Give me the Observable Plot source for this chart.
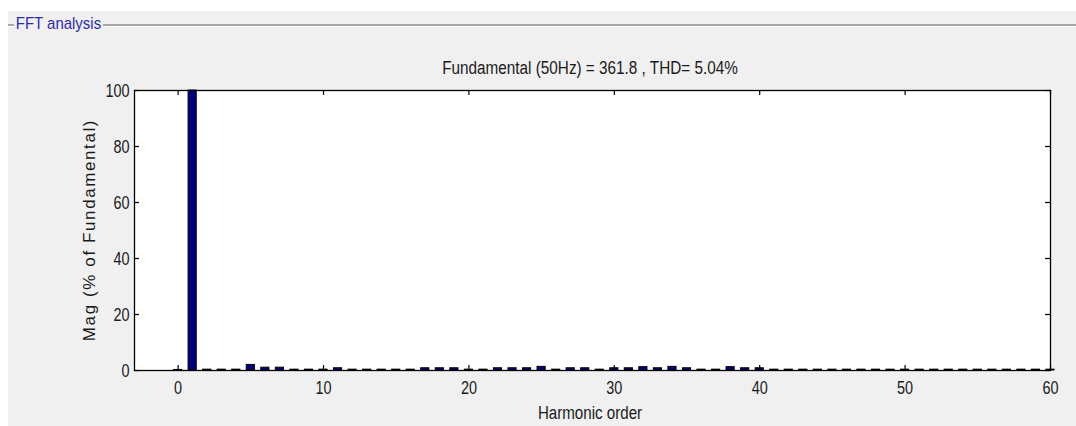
<!DOCTYPE html>
<html>
<head>
<meta charset="utf-8">
<script src="https://cdn.jsdelivr.net/npm/d3@7"></script>
<script src="https://cdn.jsdelivr.net/npm/@observablehq/plot@0.6"></script>
<style>
  html, body { margin: 0; padding: 0; background: #ffffff; }
  #wrap { position: relative; width: 1076px; height: 426px; overflow: hidden; }
  #panel { position: absolute; left: 8px; top: 11px; right: 0; bottom: 0; background: #f0f0f0; }
  #groupline { position: absolute; left: 8px; right: 0; top: 24px; height: 2px; background: #a8a8a8; border-bottom: 1px solid #ffffff; }
  #grouptitle { position: absolute; left: 14px; top: 14px; padding: 0 2px; background: #f0f0f0; color: #2a2ab4;
    font-family: "Liberation Sans", Arial, sans-serif; font-size: 17px; line-height: 20px;
    transform: scaleX(0.88); transform-origin: left center; }
  #chart { position: absolute; left: 0; top: 0; }
  .lbl { position: absolute; color: #1a1a1a; font-family: "Liberation Sans", Arial, sans-serif; white-space: nowrap; }
</style>
</head>
<body>
<div id="wrap">
  <div id="panel"></div>
  <div id="groupline"></div>
  <div id="grouptitle">FFT analysis</div>
  <div id="chart"></div>
</div>
<script>
const title = "Fundamental (50Hz) = 361.8 , THD= 5.04%";
const xLabel = "Harmonic order";
const yLabel = "Mag (% of Fundamental)";
const groupTitle = "FFT analysis";

const harmonics = d3.range(0, 61);
const magnitudes = [
  0.2, 100, 0.3, 0.3, 0.3, 2.0, 1.0, 1.0, 0.3, 0.3,
  0.3, 0.8, 0.3, 0.3, 0.3, 0.3, 0.3, 0.8, 0.8, 0.8,
  0.3, 0.3, 0.8, 0.8, 0.8, 1.3, 0.3, 0.8, 0.8, 0.3,
  0.8, 0.8, 1.2, 0.8, 1.3, 0.8, 0.3, 0.3, 1.2, 0.8,
  0.8, 0.3, 0.3, 0.3, 0.3, 0.3, 0.3, 0.3, 0.3, 0.3,
  0.3, 0.3, 0.3, 0.3, 0.3, 0.3, 0.3, 0.3, 0.3, 0.3,
  0.3
];
const xTicks = [0, 10, 20, 30, 40, 50, 60];
const yTicks = [0, 20, 40, 60, 80, 100];

const data = harmonics.map((h, i) => ({h, v: magnitudes[i]}));
const halfWidth = 0.28;

const W = 1076, H = 426;
const mL = 134, mR = 26, mT = 90, mB = 56;
const frameH = H - mT - mB, frameW = W - mL - mR;
const tickLen = 5;
const font = '"Liberation Sans", Arial, sans-serif';

const chart = Plot.plot({
  width: W,
  height: H,
  marginLeft: mL,
  marginRight: mR,
  marginTop: mT,
  marginBottom: mB,
  style: { background: "transparent", fontFamily: font, fontSize: "18px", color: "#1a1a1a" },
  x: { domain: [-3, 60], axis: null },
  y: { domain: [0, 100], axis: null },
  marks: [
    Plot.frame({ fill: "white", stroke: "none" }),
    Plot.rectY(data, { x1: d => d.h - halfWidth, x2: d => d.h + halfWidth, y1: 0, y2: "v", fill: "#000080", stroke: "black", strokeWidth: 1 }),
    // inward ticks
    Plot.tickX(xTicks, { x: d => d, insetTop: frameH - tickLen, stroke: "black", strokeWidth: 1.2 }),
    Plot.tickX(xTicks, { x: d => d, insetBottom: frameH - tickLen, stroke: "black", strokeWidth: 1.2 }),
    Plot.tickY(yTicks, { y: d => d, insetRight: frameW - tickLen, stroke: "black", strokeWidth: 1.2 }),
    Plot.tickY(yTicks, { y: d => d, insetLeft: frameW - tickLen, stroke: "black", strokeWidth: 1.2 }),
    Plot.axisX(xTicks, { tickSize: 0, tickPadding: 10, fontSize: 19, fill: "#1a1a1a", label: null }),
    Plot.axisY(yTicks, { tickSize: 0, tickPadding: 5, fontSize: 19, fill: "#1a1a1a", label: null }),
    Plot.frame({ stroke: "black", strokeWidth: 1.3 })
  ]
});
document.getElementById("chart").appendChild(chart);
// condense tick labels horizontally (narrow MATLAB-style font)
d3.select(chart).selectAll("g[aria-label$='tick label'] text").each(function() {
  const w = this.getComputedTextLength();
  if (w > 0) {
    this.setAttribute("textLength", (w * 0.76).toFixed(2));
    this.setAttribute("lengthAdjust", "spacingAndGlyphs");
  }
});
document.getElementById("grouptitle").textContent = groupTitle;

const wrap = document.getElementById("wrap");
function addLabel(text, css) {
  const el = document.createElement("div");
  el.className = "lbl";
  el.textContent = text;
  Object.assign(el.style, css);
  wrap.appendChild(el);
  return el;
}
addLabel(title, { left: "590px", top: "68px", transform: "translate(-50%,-50%) scaleX(0.85)", fontSize: "18px" });
addLabel(xLabel, { left: "590px", top: "413px", transform: "translate(-50%,-50%) scaleX(0.84)", fontSize: "18px" });
addLabel(yLabel, { left: "90px", top: "230px", transform: "translate(-50%,-50%) rotate(-90deg)", fontSize: "17px",
  letterSpacing: "1.6px" });
</script>
</body>
</html>
